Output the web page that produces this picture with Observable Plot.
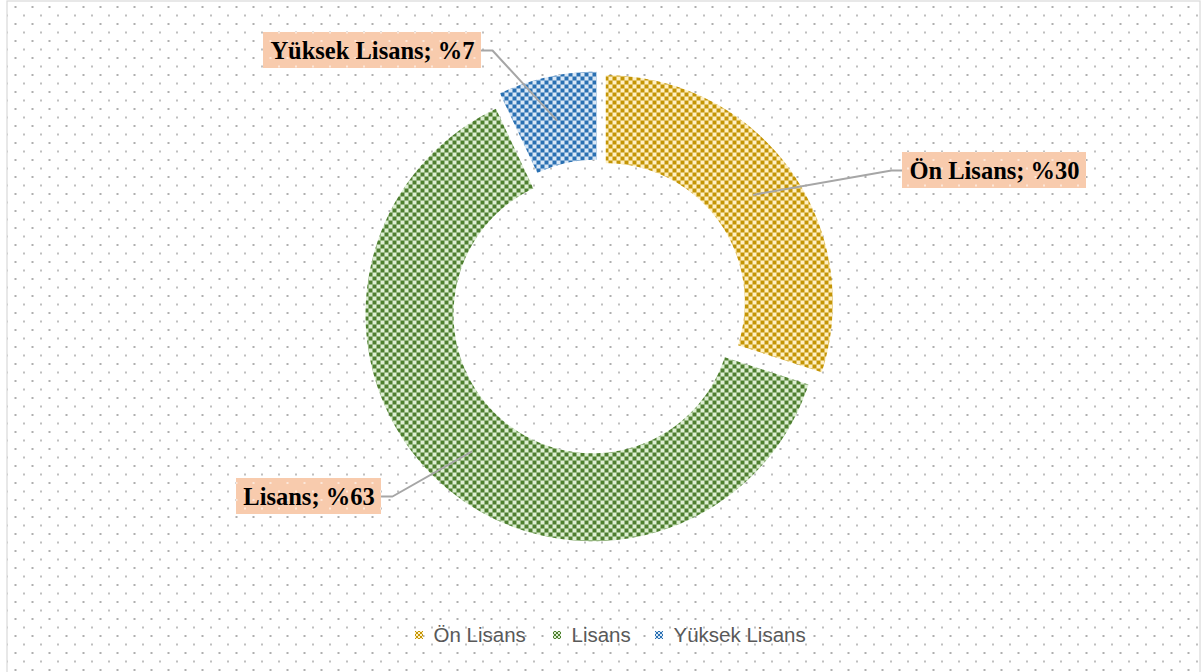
<!DOCTYPE html>
<html>
<head>
<meta charset="utf-8">
<script src="https://cdn.jsdelivr.net/npm/d3@7"></script>
<script src="https://cdn.jsdelivr.net/npm/@observablehq/plot@0.6"></script>
<style>
  html, body { margin: 0; padding: 0; background: #fff; }
  #chart svg { display: block; }
</style>
</head>
<body>
<div id="chart"></div>
<script>
// ---- data ----
const categories = ["Ön Lisans", "Lisans", "Yüksek Lisans"];
const shares = [30, 63, 7];
const labelTexts = categories.map((c, i) => `${c}; %${shares[i]}`);
const patternIds = ["pat-on", "pat-lisans", "pat-yuksek"];
const darkColors = ["#C49505", "#4E7F2F", "#2A70B2"];
const lightColors = ["#FFF0C4", "#DDEED3", "#DAE8F6"];

// ---- layout constants (pixel space) ----
const W = 1202, H = 672;
const cx = 598, cy = 307, R = 227, r = 139, explode = 9;

const total = d3.sum(shares);
let acc = 0;
const slices = categories.map((cat, i) => {
  const a0 = acc / total * 2 * Math.PI;
  acc += shares[i];
  const a1 = acc / total * 2 * Math.PI;
  const mid = (a0 + a1) / 2;
  const ox = explode * Math.sin(mid), oy = -explode * Math.cos(mid);
  return {cat, i, a0, a1, mid, ox, oy};
});

// polygon points of each ring segment
const arcRows = [];
for (const s of slices) {
  const n = Math.max(8, Math.ceil((s.a1 - s.a0) / (Math.PI / 180)));
  for (let k = 0; k <= n; k++) {
    const a = s.a0 + (s.a1 - s.a0) * k / n;
    arcRows.push({cat: s.cat, x: cx + s.ox + R * Math.sin(a), y: cy + s.oy - R * Math.cos(a)});
  }
  for (let k = n; k >= 0; k--) {
    const a = s.a0 + (s.a1 - s.a0) * k / n;
    arcRows.push({cat: s.cat, x: cx + s.ox + r * Math.sin(a), y: cy + s.oy - r * Math.cos(a)});
  }
}

// label boxes
const boxes = [
  {cat: "Ön Lisans", x1: 902, x2: 1086, y1: 152, y2: 188, side: "left"},
  {cat: "Lisans", x1: 236, x2: 381, y1: 478, y2: 514, side: "right"},
  {cat: "Yüksek Lisans", x1: 263, x2: 481, y1: 32, y2: 68, side: "right"}
];
const labelRows = boxes.map(b => {
  const i = categories.indexOf(b.cat);
  return {...b, text: labelTexts[i], tx: (b.x1 + b.x2) / 2, ty: (b.y1 + b.y2) / 2 + 1};
});
const leaderRows = [];
for (const b of boxes) {
  const s = slices[categories.indexOf(b.cat)];
  const rm = (R + r) / 2;
  const ax = cx + s.ox + rm * Math.sin(s.mid), ay = cy + s.oy - rm * Math.cos(s.mid);
  const ey = (b.y1 + b.y2) / 2;
  const ex = b.side === "left" ? b.x1 : b.x2;
  const elbow = b.side === "left" ? ex - 11 : ex + 11;
  leaderRows.push({cat: b.cat, x: ex, y: ey}, {cat: b.cat, x: elbow, y: ey}, {cat: b.cat, x: ax, y: ay});
}

// legend
const legendX = [419, 557, 659];
const legendRows = categories.map((c, i) => ({cat: c, mx: legendX[i], tx: legendX[i] + 14, y: 635, pat: "url(#" + patternIds[i] + "-s)"}));

const marks = [
  Plot.rect([0], {x1: 7, x2: 1200, y1: 1, y2: 700, fill: "url(#bgdots)", stroke: "#D9D9D9", strokeWidth: 1.2}),
  ...slices.map((s, i) => Plot.line(arcRows.filter(d => d.cat === s.cat), {
    x: "x", y: "y", curve: "linear-closed", fill: "url(#" + patternIds[i] + ")", stroke: "none"
  })),
  Plot.line(leaderRows, {x: "x", y: "y", z: "cat", stroke: "#A6A6A6", strokeWidth: 2}),
  Plot.rect(labelRows, {x1: "x1", x2: "x2", y1: "y1", y2: "y2", fill: "#F8CBAD"}),
  Plot.rect(labelRows, {x1: "x1", x2: "x2", y1: "y1", y2: "y2", fill: "url(#boxdots)"}),
  Plot.text(labelRows, {x: "tx", y: "ty", text: "text", textAnchor: "middle", fontFamily: "Liberation Serif", fontWeight: "bold", fontSize: 24.5, fill: "#000"}),
  ...legendRows.map(d => Plot.rect([d], {x1: d => d.mx - 4, x2: d => d.mx + 4, y1: d => d.y - 4, y2: d => d.y + 4, fill: d.pat})),
  Plot.text(legendRows, {x: "tx", y: "y", text: "cat", textAnchor: "start", fontFamily: "Liberation Sans", fontSize: 20.5, fill: "#595959"})
];

const chart = Plot.plot({
  width: W, height: H, margin: 0,
  x: {domain: [0, W], range: [0, W], axis: null},
  y: {domain: [0, H], range: [0, H], axis: null},
  style: {background: "#fff", overflow: "hidden"},
  marks
});

// pattern definitions
const svg = d3.select(chart.tagName.toLowerCase() === "svg" ? chart : chart.querySelector("svg"));
const defs = svg.insert("defs", ":first-child");
const dotPos = [[8.5, 8, 0], [0, 16.5, 1], [17, 16.5, 1], [17, -0.5, 1], [0, -0.5, 1]];
const bg = defs.append("pattern").attr("id", "bgdots").attr("patternUnits", "userSpaceOnUse")
  .attr("x", 6).attr("y", -2).attr("width", 17).attr("height", 17);
bg.append("rect").attr("width", 17).attr("height", 17).attr("fill", "#fff");
for (const [x, y, t] of dotPos) {
  bg.append("rect").attr("x", x).attr("y", y).attr("width", 2).attr("height", 2).attr("fill", t ? "#BFBFBF" : "#AFAFAF");
}
const bd = defs.append("pattern").attr("id", "boxdots").attr("patternUnits", "userSpaceOnUse")
  .attr("x", 6).attr("y", -2).attr("width", 17).attr("height", 17);
for (const [x, y] of dotPos) {
  bd.append("rect").attr("x", x).attr("y", y).attr("width", 2).attr("height", 2).attr("fill", "#fff").attr("opacity", 0.55);
}
patternIds.forEach((id, i) => {
  for (const [suffix, cell] of [["", 4], ["-s", 2]]) {
    const p = defs.append("pattern").attr("id", id + suffix).attr("patternUnits", "userSpaceOnUse")
      .attr("width", cell * 2).attr("height", cell * 2);
    p.append("rect").attr("width", cell * 2).attr("height", cell * 2).attr("fill", lightColors[i]);
    p.append("rect").attr("width", cell).attr("height", cell).attr("fill", darkColors[i]);
    p.append("rect").attr("x", cell).attr("y", cell).attr("width", cell).attr("height", cell).attr("fill", darkColors[i]);
  }
});

document.getElementById("chart").appendChild(chart);
</script>
</body>
</html>
